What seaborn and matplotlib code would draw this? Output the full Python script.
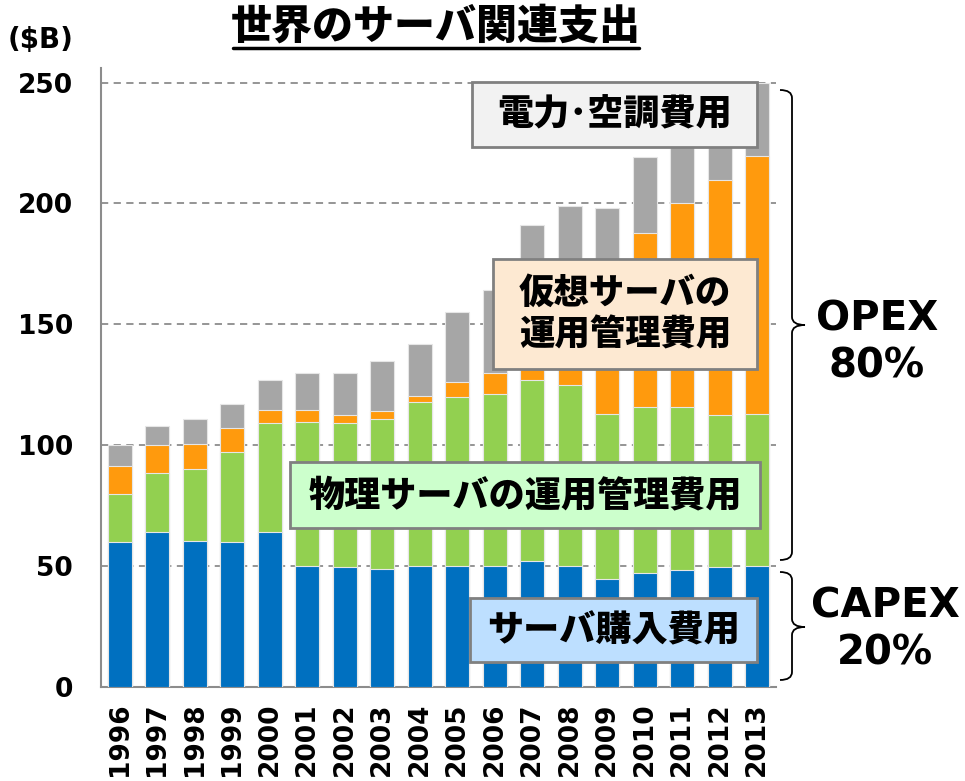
import numpy as np
import pandas as pd
import seaborn as sns
import matplotlib.pyplot as plt
from matplotlib.patches import Rectangle, PathPatch
from matplotlib.path import Path

# Values ($B)
years = [str(y) for y in range(1996, 2014)]
purchase = [60, 64, 60.5, 60, 64, 50, 49.7, 49, 50, 50, 50, 52, 50, 44.5, 47, 48.3, 49.5, 50]
physical = [20, 24.4, 29.5, 37, 45, 59.6, 59.3, 62, 68, 70, 71, 75, 74.7, 68.5, 68.8, 67.5, 63.1, 62.8]
virtual = [11.4, 11.6, 10.7, 10, 5.6, 5, 3.5, 3, 2.5, 6.2, 9, 26, 38.3, 51, 72, 84.2, 96.9, 106.9]
power = [8.6, 8, 10.3, 10.2, 12.4, 15.4, 17.5, 20.7, 21.5, 28.8, 34, 38, 36, 34, 31.2, 28, 27.5, 30.3]

layer_names = ["サーバ購入費用", "物理サーバの運用管理費用", "仮想サーバの運用管理費用", "電力･空調費用"]
layer_colors = ["#0070c0", "#92d050", "#ff9a0d", "#a6a6a6"]

df = pd.DataFrame({"year": years, "purchase": purchase, "physical": physical,
                   "virtual": virtual, "power": power})
cum = df[["purchase", "physical", "virtual", "power"]].cumsum(axis=1)

sns.set_style("white")
JP = ["Noto Sans CJK JP", "DejaVu Sans"]
plt.rcParams["font.family"] = ["DejaVu Sans", "Noto Sans CJK JP"]
plt.rcParams["text.color"] = "black"

fig = plt.figure(figsize=(9.65, 7.81), dpi=100)
ax = fig.add_axes([101 / 965, 94 / 781, 675 / 965, 619 / 781])

# stacked bars: draw cumulative totals from top layer down
for col, color in zip(["power", "virtual", "physical", "purchase"], layer_colors[::-1]):
    sns.barplot(x=df["year"], y=cum[col], color=color, saturation=1, width=0.64,
                edgecolor="#e6e6e6", linewidth=0.8, errorbar=None, ax=ax, zorder=3)

ax.set_xlim(-0.5, 17.5)
ax.set_ylim(0, 256)
ax.set_xlabel("")
ax.set_ylabel("")
ax.set_yticks([0, 50, 100, 150, 200, 250])
for v in [50, 100, 150, 200, 250]:
    ax.axhline(v, color="#8c8c8c", lw=1.3, ls=(0, (4, 3)), zorder=1)

for s in ["top", "right"]:
    ax.spines[s].set_visible(False)
for s in ["left", "bottom"]:
    ax.spines[s].set_color("#8c8c8c")
    ax.spines[s].set_linewidth(1.5)

ax.tick_params(axis="y", direction="inout", length=12, width=1.3, color="#8c8c8c",
               pad=14, labelsize=19, labelcolor="black")
ax.tick_params(axis="x", which="major", length=0, pad=11, labelsize=19, labelrotation=90,
               labelcolor="black")
ax.set_xticks(np.arange(-0.5, 18, 1), minor=True)
ax.tick_params(axis="x", which="minor", direction="out", length=9, width=1.3, color="#8c8c8c")
for lab in ax.get_xticklabels() + ax.get_yticklabels():
    lab.set_fontweight("bold")

# overlay in pixel coordinates for annotations
ov = fig.add_axes([0, 0, 1, 1], zorder=5)
ov.set_xlim(0, 965)
ov.set_ylim(781, 0)
ov.axis("off")
ov.patch.set_alpha(0)

ov.text(436, 27, "世界のサーバ関連支出", family=JP, fontweight="black", fontsize=29.5,
        ha="center", va="center", color="black")
ov.plot([233, 639], [48, 48], color="black", lw=2.5)
ov.text(8, 40, "($B)", fontweight="bold", fontsize=20, ha="left", va="center", color="black")

boxes = [
    (472, 82, 757, 147, "#f2f2f2", layer_names[3], 26),
    (493, 259, 757, 369, "#fde9d2", "仮想サーバの\n運用管理費用", 25.5),
    (290, 462, 760, 528, "#ccffcc", layer_names[1], 26),
    (470, 598, 757, 662, "#bddfff", layer_names[0], 26),
]
for x0, y0, x1, y1, fc, label, fs in boxes:
    ov.add_patch(Rectangle((x0, y0), x1 - x0, y1 - y0, facecolor=fc,
                           edgecolor="#808080", lw=2))
    ov.text((x0 + x1) / 2, (y0 + y1) / 2, label, family=JP, fontweight="black",
            fontsize=fs, ha="center", va="center", linespacing=1.2, color="black")


def brace(y_top, y_bot, y_mid, x0=780, x1=792, xt=805, r=8):
    verts = [(x0, y_top), (x1, y_top), (x1, y_top + r),
             (x1, y_mid - r), (x1, y_mid), (xt, y_mid),
             (x1, y_mid), (x1, y_mid + r),
             (x1, y_bot - r), (x1, y_bot), (x0, y_bot)]
    codes = [Path.MOVETO, Path.CURVE3, Path.CURVE3,
             Path.LINETO, Path.CURVE3, Path.CURVE3,
             Path.CURVE3, Path.CURVE3,
             Path.LINETO, Path.CURVE3, Path.CURVE3]
    ov.add_patch(PathPatch(Path(verts, codes), fill=False, color="black", lw=1.3))


brace(90, 560, 325)
brace(572, 680, 627)
ov.text(877, 343, "OPEX\n80%", fontweight="bold", fontsize=29, ha="center",
        va="center", linespacing=1.2, color="black")
ov.text(885, 630, "CAPEX\n20%", fontweight="bold", fontsize=29, ha="center",
        va="center", linespacing=1.2, color="black")

fig.savefig("out.png", dpi=100)
